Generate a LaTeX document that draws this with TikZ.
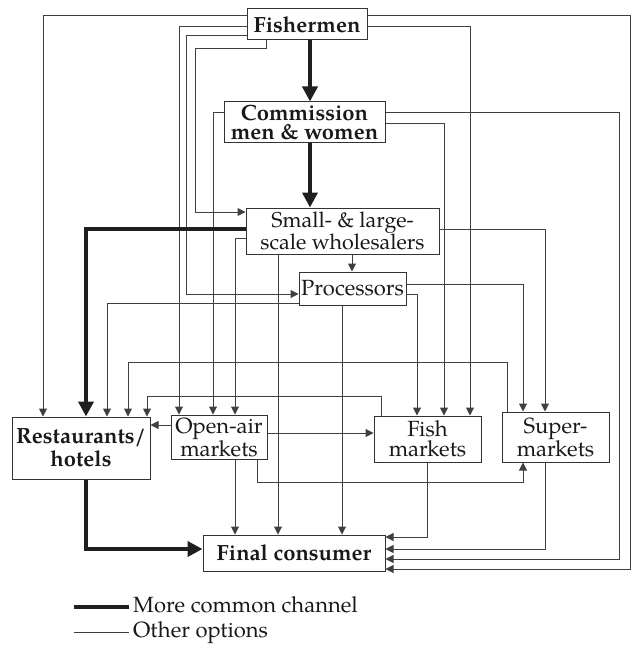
\documentclass[tikz,border=0pt]{standalone}
\usepackage{fontspec}
\setmainfont{TeX Gyre Pagella}
\usetikzlibrary{arrows.meta}
\begin{document}
\begin{tikzpicture}[x=1pt,y=-1pt,
  box/.style={draw=black!80, line width=1pt, inner sep=0pt, align=center, text=black!90,
    font=\fontsize{22}{20}\selectfont},
  bbox/.style={box, font=\fontsize{22}{20}\selectfont\bfseries},
  ln/.style={draw=black!75, line width=1pt, -{Triangle[length=8pt,width=8pt]}},
  thk/.style={draw=black!88, line width=4pt, -{Triangle[length=15pt,width=15pt]}},
  legtext/.style={anchor=base west, inner sep=0pt, text=black!90, font=\fontsize{22}{20}\selectfont}
]
\useasboundingbox (0,0) rectangle (632,647);
% nodes
\node[bbox, minimum width=120pt, minimum height=31pt] (fish) at (307,24.5) {Fishermen};
\node[bbox, minimum width=161pt, minimum height=41pt, font=\fontsize{22}{19.5}\selectfont\bfseries] (comm) at (304.5,122.5) {Commission\\men \& women};
\node[box, minimum width=193pt, minimum height=46pt, font=\fontsize{21.5}{21.5}\selectfont] (whole) at (342.5,231) {Small- \& large-\\scale wholesalers};
\node[box, minimum width=107pt, minimum height=33pt] (proc) at (352.5,288.5) {Processors};
\node[bbox, minimum width=138pt, minimum height=62pt, font=\fontsize{22}{23}\selectfont\bfseries] (rest) at (81,448) {Restaurants/\\hotels};
\node[box, minimum width=96pt, minimum height=44pt, font=\fontsize{22}{18.5}\selectfont] (open) at (219,437) {Open-air\\markets};
\node[box, minimum width=107pt, minimum height=46pt] (fishm) at (427.5,439) {Fish\\markets};
\node[box, minimum width=107pt, minimum height=50pt, font=\fontsize{22}{23}\selectfont] (super) at (555.5,437) {Super-\\markets};
\node[bbox, minimum width=182pt, minimum height=36pt] (final) at (294,553) {Final consumer};
% Fishermen
\draw[ln] (fish.west |- 0,16) -| (rest.north -| 43,0);
\draw[ln] (fish.east |- 0,16) -- (630,16) |- (final.east |- 0,569);
\draw[ln] (fish.west |- 0,27) -| (open.north -| 179,0);
\draw[ln] (fish.west |- 0,36) -| (186,294) -- (proc.west |- 0,294);
\draw[ln] (fish.south -| 266,0) |- (195,49) |- (whole.west |- 0,212);
\draw[ln] (fish.east |- 0,27) -| (fishm.north -| 470,0);
\draw[thk] (fish.south -| 310,0) -- (comm.north -| 310,0);
% Commission
\draw[thk] (comm.south -| 310,0) -- (whole.north -| 310,0);
\draw[ln] (comm.west |- 0,113) -| (open.north -| 213,0);
\draw[ln] (comm.east |- 0,124) -| (fishm.north -| 444,0);
\draw[ln] (comm.east |- 0,113) -- (619,113) |- (final.east |- 0,559);
% Wholesalers
\draw[thk] (whole.west |- 0,229) -| (rest.north -| 86,0);
\draw[ln] (whole.west |- 0,238) -| (open.north -| 235,0);
\draw[ln] (whole.south -| 278,0) -- (final.north -| 278,0);
\draw[ln] (whole.south -| 352,0) -- (proc.north -| 352,0);
\draw[ln] (whole.east |- 0,229) -| (super.north -| 545,0);
% Processors
\draw[ln] (proc.west |- 0,303) -| (rest.north -| 107,0);
\draw[ln] (proc.east |- 0,284) -| (super.north -| 523,0);
\draw[ln] (proc.east |- 0,294) -| (fishm.north -| 417,0);
\draw[ln] (proc.south -| 342,0) -- (final.north -| 342,0);
% Fish markets
\draw[ln] (fishm.north -| 381,0) |- (147,396) -- (rest.north -| 147,0);
\draw[ln] (fishm.south -| 427,0) |- (final.east |- 0,537);
% Supermarkets
\draw[ln] (super.north -| 507,0) |- (128,362) -- (rest.north -| 128,0);
\draw[ln] (super.south -| 545,0) |- (final.east |- 0,549);
% Open-air markets
\draw[ln] (open.west |- 0,425) -- (rest.east |- 0,425);
\draw[ln] (open.east |- 0,433) -- (fishm.west |- 0,433);
\draw[ln] (open.south -| 257,0) |- (523,482) -- (super.south -| 523,0);
\draw[ln] (open.south -| 235,0) -- (final.north -| 235,0);
% Restaurants
\draw[thk] (rest.south -| 86,0) |- (final.west |- 0,549);
% legend
\coordinate (l1a) at (74,607);
\coordinate (l1b) at (129,607);
\coordinate (l2a) at (74,632);
\coordinate (l2b) at (129,632);
\draw[draw=black!88, line width=4.5pt] (l1a) -- (l1b);
\draw[draw=black!75, line width=1pt] (l2a) -- (l2b);
\node[legtext] (leg1) at (133,612) {More common channel};
\node[legtext] (leg2) at (133,637) {Other options};
\end{tikzpicture}
\end{document}
